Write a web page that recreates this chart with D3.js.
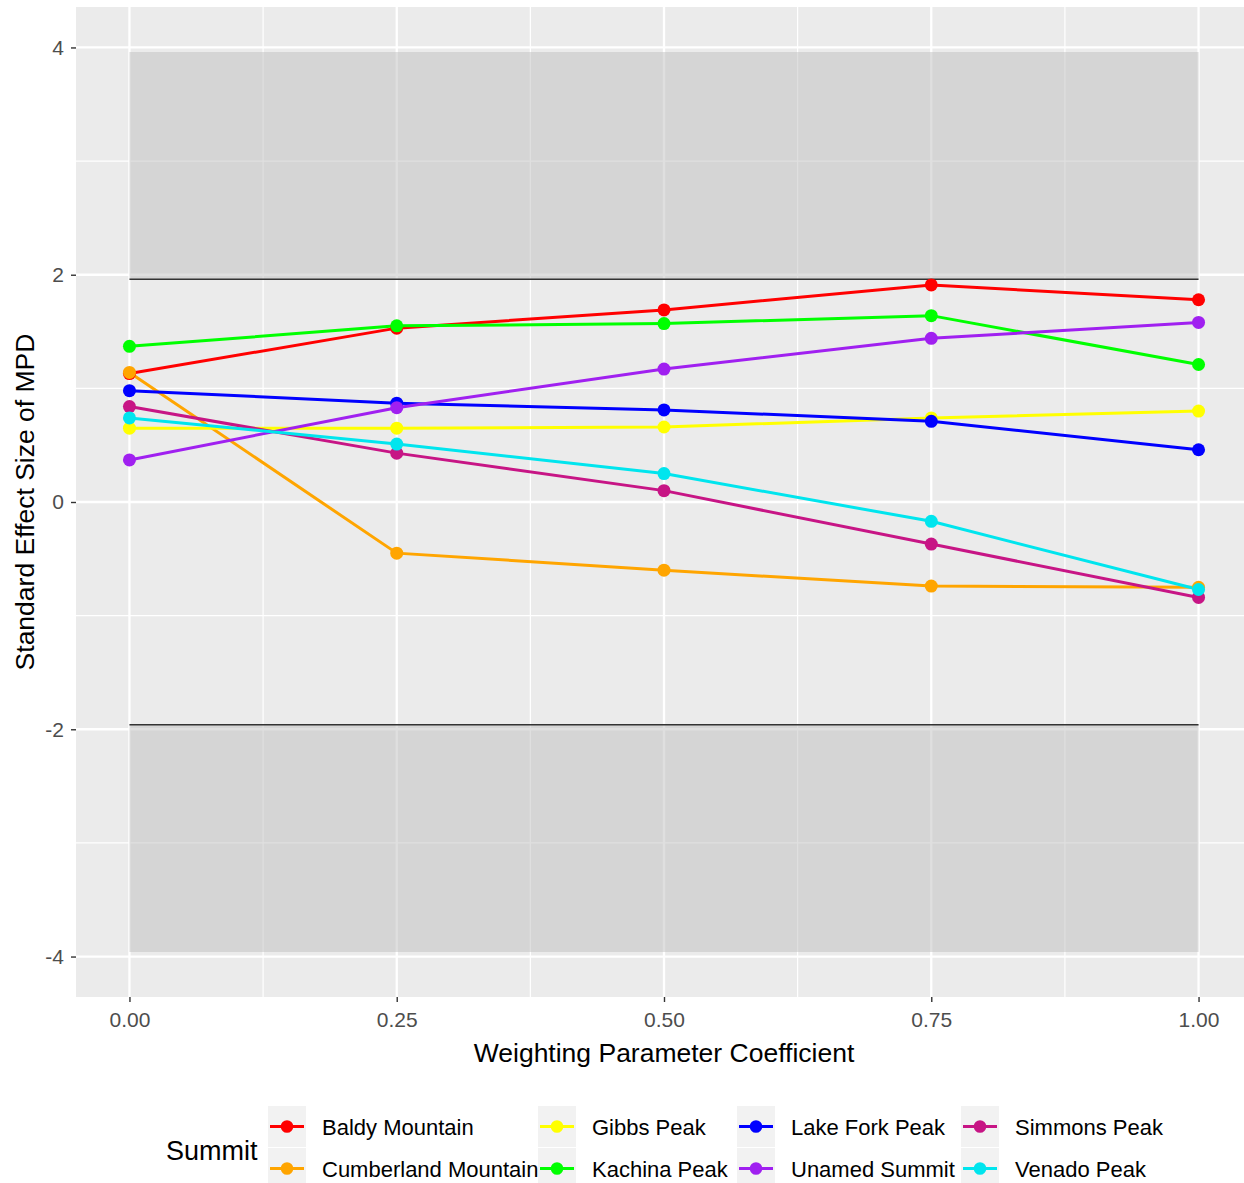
<!DOCTYPE html>
<html>
<head>
<meta charset="utf-8">
<script src="https://cdn.jsdelivr.net/npm/d3@7"></script>
<style>
  html, body { margin: 0; padding: 0; background: #ffffff; }
  svg { display: block; font-family: "Liberation Sans", Arial, sans-serif; }
</style>
</head>
<body>
<svg id="chart" width="1244" height="1183"></svg>
<script>
// ---- data ----
const weights = [0, 0.25, 0.5, 0.75, 1.0];
const summits = ["Baldy Mountain", "Cumberland Mountain", "Gibbs Peak", "Kachina Peak",
                 "Lake Fork Peak", "Unamed Summit", "Simmons Peak", "Venado Peak"];
const colors = ["#FF0000", "#FFA500", "#FFFF00", "#00FF00", "#0000FF", "#A020F0", "#C71585", "#00E5EE"];
const baldy      = [1.13, 1.53, 1.69, 1.91, 1.78];
const cumberland = [1.14, -0.45, -0.60, -0.74, -0.75];
const gibbs      = [0.65, 0.65, 0.66, 0.74, 0.80];
const kachina    = [1.37, 1.55, 1.57, 1.64, 1.21];
const lakeFork   = [0.98, 0.87, 0.81, 0.71, 0.46];
const unamed     = [0.37, 0.83, 1.17, 1.44, 1.58];
const simmons    = [0.84, 0.43, 0.10, -0.37, -0.84];
const venado     = [0.74, 0.51, 0.25, -0.17, -0.77];
const seriesValues = [baldy, cumberland, gibbs, kachina, lakeFork, unamed, simmons, venado];
const xTicks = [0, 0.25, 0.5, 0.75, 1.0];
const xMinor = [0.125, 0.375, 0.625, 0.875];
const yTicks = [-4, -2, 0, 2, 4];
const yMinor = [-3, -1, 1, 3];
const bandUpper = [1.96, 3.96];
const bandLower = [-3.96, -1.96];
const xTitle = "Weighting Parameter Coefficient";
const yTitle = "Standard Effect Size of MPD";
const legendTitle = "Summit";

// ---- layout ----
const svg = d3.select("#chart");
const panel = { left: 76, top: 7, right: 1252, bottom: 997 };
const x = d3.scaleLinear().domain([-0.05, 1.05]).range([panel.left, panel.right]);
const y = d3.scaleLinear().domain([-4.356, 4.356]).range([panel.bottom, panel.top]);

svg.append("defs").append("clipPath").attr("id", "clip")
  .append("rect").attr("x", panel.left).attr("y", panel.top)
  .attr("width", panel.right - panel.left).attr("height", panel.bottom - panel.top);

const g = svg.append("g").attr("clip-path", "url(#clip)");
g.append("rect").attr("x", panel.left).attr("y", panel.top)
  .attr("width", panel.right - panel.left).attr("height", panel.bottom - panel.top)
  .attr("fill", "#EBEBEB");

// minor grid
g.selectAll(".ymin").data(yMinor).enter().append("line")
  .attr("x1", panel.left).attr("x2", panel.right)
  .attr("y1", d => y(d)).attr("y2", d => y(d))
  .attr("stroke", "#ffffff").attr("stroke-width", 1.2);
g.selectAll(".xmin").data(xMinor).enter().append("line")
  .attr("y1", panel.top).attr("y2", panel.bottom)
  .attr("x1", d => x(d)).attr("x2", d => x(d))
  .attr("stroke", "#ffffff").attr("stroke-width", 1.2);
// major grid
g.selectAll(".ymaj").data(yTicks).enter().append("line")
  .attr("x1", panel.left).attr("x2", panel.right)
  .attr("y1", d => y(d)).attr("y2", d => y(d))
  .attr("stroke", "#ffffff").attr("stroke-width", 2.3);
g.selectAll(".xmaj").data(xTicks).enter().append("line")
  .attr("y1", panel.top).attr("y2", panel.bottom)
  .attr("x1", d => x(d)).attr("x2", d => x(d))
  .attr("stroke", "#ffffff").attr("stroke-width", 2.3);

// shaded bands
[bandUpper, bandLower].forEach(b => {
  g.append("rect")
    .attr("x", x(0)).attr("width", x(1) - x(0))
    .attr("y", y(b[1])).attr("height", y(b[0]) - y(b[1]))
    .attr("fill", "#bfbfbf").attr("fill-opacity", 0.5);
});
// reference lines
g.append("line").attr("x1", x(0)).attr("x2", x(1))
  .attr("y1", y(bandUpper[0])).attr("y2", y(bandUpper[0]))
  .attr("stroke", "#333333").attr("stroke-width", 1.4);
g.append("line").attr("x1", x(0)).attr("x2", x(1))
  .attr("y1", y(bandLower[1])).attr("y2", y(bandLower[1]))
  .attr("stroke", "#333333").attr("stroke-width", 1.4);

// lines
const line = d3.line().x((d, i) => x(weights[i])).y(d => y(d));
seriesValues.forEach((vals, si) => {
  g.append("path").datum(vals).attr("d", line)
    .attr("fill", "none").attr("stroke", colors[si]).attr("stroke-width", 3);
});
seriesValues.forEach((vals, si) => {
  g.selectAll(".pt" + si).data(vals).enter().append("circle")
    .attr("cx", (d, i) => x(weights[i])).attr("cy", d => y(d))
    .attr("r", 6.5).attr("fill", colors[si]);
});

// axes
const xAxis = d3.axisBottom(x).tickValues(xTicks).tickFormat(d3.format(".2f")).tickSize(5).tickPadding(10);
const xa = svg.append("g").attr("transform", `translate(0,${panel.bottom})`).call(xAxis);
const yAxis = d3.axisLeft(y).tickValues(yTicks).tickFormat(d => d).tickSize(5).tickPadding(7);
const ya = svg.append("g").attr("transform", `translate(${panel.left},0)`).call(yAxis);
[xa, ya].forEach(a => {
  a.select(".domain").remove();
  a.selectAll(".tick line").attr("stroke", "#333333").attr("stroke-width", 1.4);
  a.selectAll(".tick text").attr("fill", "#4D4D4D").style("font-size", "21px")
    .style("font-family", "'Liberation Sans', Arial, sans-serif");
});
ya.selectAll(".tick text").text(d => d < 0 ? "-" + Math.abs(d) : d);

// titles
svg.append("text").attr("x", x(0.5)).attr("y", 1062).attr("text-anchor", "middle")
  .style("font-size", "26.5px").attr("fill", "#000").text(xTitle);
svg.append("text").attr("transform", `translate(34,${y(0)}) rotate(-90)`)
  .attr("text-anchor", "middle").style("font-size", "26.5px").attr("fill", "#000").text(yTitle);

// legend
const leg = svg.append("g");
leg.append("text").attr("x", 166).attr("y", 1160).style("font-size", "27px").attr("fill", "#000").text(legendTitle);
const colX = [268, 538, 737, 961];
const rowY = [1106, 1148];
const keyW = 38, keyH = 41;
summits.forEach((name, i) => {
  const c = Math.floor(i / 2), r = i % 2;
  const kx = colX[c], ky = rowY[r];
  leg.append("rect").attr("x", kx).attr("y", ky).attr("width", keyW).attr("height", keyH).attr("fill", "#F2F2F2");
  leg.append("line").attr("x1", kx + 2).attr("x2", kx + keyW - 2)
    .attr("y1", ky + keyH / 2).attr("y2", ky + keyH / 2)
    .attr("stroke", colors[i]).attr("stroke-width", 3);
  leg.append("circle").attr("cx", kx + keyW / 2).attr("cy", ky + keyH / 2).attr("r", 6.3).attr("fill", colors[i]);
  leg.append("text").attr("x", kx + 54).attr("y", ky + keyH / 2 + 8)
    .style("font-size", "22px").attr("fill", "#000").text(name);
});
</script>
</body>
</html>
